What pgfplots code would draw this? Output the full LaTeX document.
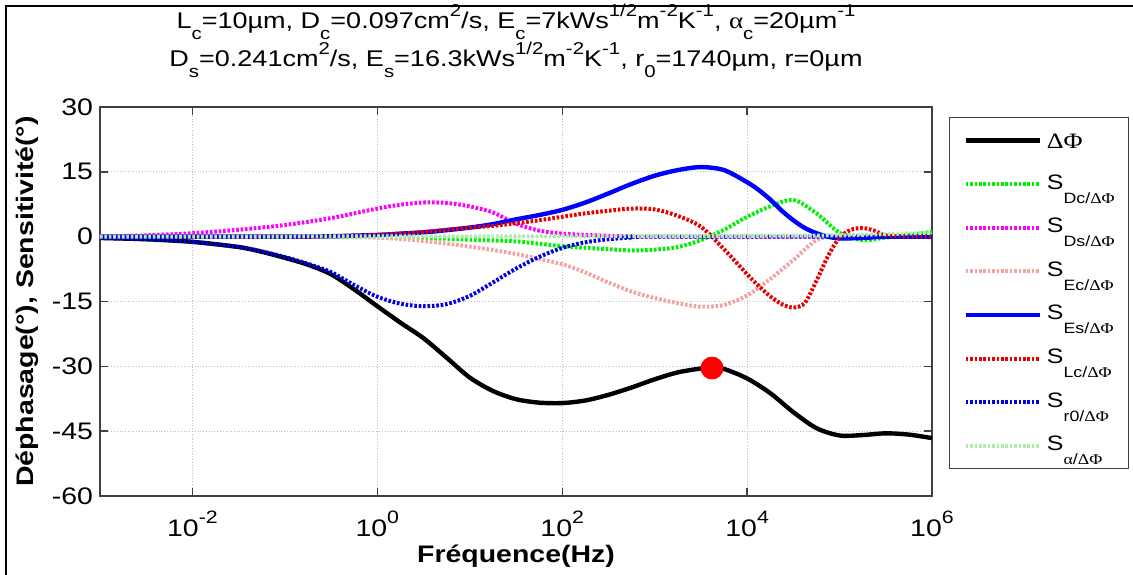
\documentclass[border=0pt]{standalone}
\usepackage{fontspec}
\setmainfont[FakeStretch=1.19]{Liberation Sans}
\newfontfamily\symf[FakeStretch=1.19]{Liberation Serif}
\usepackage{pgfplots}
\pgfplotsset{compat=1.18}
\definecolor{cDc}{RGB}{0,240,0}
\definecolor{cDs}{RGB}{255,0,255}
\definecolor{cEc}{RGB}{240,165,165}
\definecolor{cEs}{RGB}{0,0,255}
\definecolor{cLc}{RGB}{230,0,0}
\definecolor{cr0}{RGB}{0,0,230}
\definecolor{cal}{RGB}{170,240,170}
\definecolor{axgray}{RGB}{64,64,64}
\newcommand{\sub}[1]{\raisebox{-5.5bp}{\fontsize{8.6}{8.6}\selectfont #1}}
\newcommand{\sups}[1]{\raisebox{6bp}{\fontsize{8.6}{8.6}\selectfont #1}}
\newcommand{\tsup}[1]{\raisebox{6.5bp}{\fontsize{9}{9}\selectfont #1}}
\newcommand{\legS}[1]{{\fontsize{10.5}{10.5}\selectfont S\raisebox{-7bp}{\fontsize{7.5}{7.5}\selectfont #1}}}
\newcommand{\DP}{{\symf ΔΦ}}
\tikzset{mdot/.style={line width=2bp, line cap=butt, dash pattern=on 1.3bp off 0.9bp}}
\begin{document}
\begin{tikzpicture}
\path[use as bounding box] (0,0) rectangle (566.5bp,287.5bp);
\draw[line width=1.4bp] (3bp,0) -- (3bp,284.5bp) -- (566.5bp,284.5bp);
\begin{axis}[
  at={(50bp,39.5bp)}, anchor=south west,
  scale only axis, width=416bp, height=194.5bp,
  xmode=log, xmin=1e-3, xmax=1e6, ymin=-60, ymax=30,
  xtick={1e-2,1,1e2,1e4,1e6},
  xticklabels={10\tsup{-2},10\tsup{0},10\tsup{2},10\tsup{4},10\tsup{6}},
  ytick={-60,-45,-30,-15,0,15,30},
  yticklabels={-60,-45,-30,-15,0,15,30},
  xminorticks=false, yminorticks=false,
  font=\fontsize{12}{14}\selectfont,
  tick label style={font=\fontsize{12}{14}\selectfont},
  xticklabel style={anchor=base, yshift=-20bp},
  grid=major, major grid style={densely dotted, black!25, line width=0.4bp},
  axis line style={axgray, line width=0.7bp},
  tick style={axgray, line width=0.7bp}, major tick length=4bp,
  xlabel={\bfseries Fréquence(Hz)},
  ylabel={\bfseries Déphasage(°), Sensitivité(°)},
  xlabel style={at={(axis description cs:0.5,-0.154)}, anchor=center},
  ylabel style={at={(axis description cs:-0.0877,0.5)}, anchor=center},
  legend style={at={(1.0204,0.9743)}, anchor=north west, draw=black!75, line width=0.6bp, fill=white,
    inner xsep=7bp, inner ysep=0.6bp, row sep=0pt, column sep=2.5bp,
    nodes={inner sep=0pt, text height=13.4bp, text depth=8.4bp}},
  legend cell align=left,
  legend image code/.code={\draw[#1] (0bp,0bp) -- (37bp,0bp);},
]
\addplot[black, line width=2.2bp, smooth] coordinates {(0.001,-0.3) (0.00316,-0.6) (0.01,-1.2) (0.0316,-2.4) (0.0562,-3.5) (0.1,-4.9) (0.178,-6.5) (0.316,-8.7) (0.562,-12.2) (1,-16.1) (1.78,-19.9) (3.16,-23.5) (5.62,-28.0) (10,-32.6) (17.8,-35.7) (31.6,-37.6) (56.2,-38.4) (100,-38.5) (178,-37.9) (316,-36.6) (562,-34.9) (1000,-33.0) (1778,-31.4) (3162,-30.5) (4170,-30.3) (5623,-30.6) (10000,-32.8) (17783,-36.2) (31623,-40.6) (56234,-44.3) (1e5,-46.0) (177828,-45.9) (316228,-45.5) (562341,-45.8) (1e6,-46.6)};
\addlegendentry{\raisebox{-1.5bp}{\fontsize{11}{11}\selectfont\DP}}
\addplot[cDc, mdot, smooth] coordinates {(0.001,0) (1,-0.1) (3.16,-0.3) (10,-0.7) (31.6,-1.1) (100,-2.2) (316,-2.9) (562,-3.2) (1000,-3.0) (1778,-2.4) (3162,-0.8) (5623,1.6) (10000,4.6) (17783,7.0) (31623,8.5) (56234,5.4) (1e5,0.9) (177828,-0.8) (316228,-0.2) (562341,0.4) (1e6,1.1)};
\addlegendentry{\legS{Dc/\DP}}
\addplot[cDs, mdot, smooth] coordinates {(0.001,0) (0.00316,0.3) (0.01,0.8) (0.0316,1.6) (0.1,2.7) (0.316,4.3) (1,6.5) (1.78,7.4) (3.16,7.9) (5.62,7.8) (10,7.0) (17.8,5.6) (31.6,3.0) (56.2,1.4) (100,0.7) (178,0.4) (316,0.2) (562,0.1) (1000,0) (1e6,0)};
\addlegendentry{\legS{Ds/\DP}}
\addplot[cEc, mdot, smooth] coordinates {(0.001,0) (0.316,0) (1,-0.2) (3.16,-1.0) (10,-2.3) (31.6,-4.0) (100,-6.4) (178,-8.3) (316,-10.6) (562,-12.7) (1000,-14.2) (1778,-15.4) (3162,-16.2) (5623,-15.8) (10000,-13.6) (17783,-9.8) (31623,-5.4) (56234,-0.8) (1e5,0.2) (316228,0) (1e6,0)};
\addlegendentry{\legS{Ec/\DP}}
\addplot[cEs, line width=2.2bp, smooth] coordinates {(0.001,0) (0.1,0) (0.316,0.1) (1,0.4) (1.78,0.7) (3.16,1.0) (5.62,1.5) (10,2.1) (17.8,2.9) (31.6,4.0) (56.2,5.0) (100,6.2) (178,7.9) (316,10.0) (562,12.2) (1000,14.1) (1778,15.4) (3162,16.1) (5623,15.4) (10000,12.6) (13335,10.8) (17783,8.6) (23714,6.0) (31623,3.8) (42170,2.0) (56234,0.8) (74989,0.0) (1e5,-0.4) (177828,-0.3) (316228,0) (1e6,0)};
\addlegendentry{\legS{Es/\DP}}
\addplot[cLc, mdot, smooth] coordinates {(0.001,0) (0.1,0) (0.316,0.1) (1,0.4) (1.78,0.7) (3.16,1.1) (5.62,1.6) (10,2.1) (17.8,2.5) (31.6,3.1) (56.2,3.8) (100,4.6) (178,5.4) (316,6.0) (562,6.5) (1000,6.3) (1778,4.8) (3162,2.3) (5623,-2.9) (10000,-8.7) (13335,-11.4) (17783,-13.8) (23714,-15.6) (31623,-16.4) (42170,-15.3) (56234,-10.2) (74989,-4.5) (1e5,-0.2) (133352,1.6) (177828,2.0) (237137,1.4) (316228,0.3) (562341,0) (1e6,0)};
\addlegendentry{\legS{Lc/\DP}}
\addplot[cr0, mdot, smooth] coordinates {(0.001,-0.3) (0.00316,-0.6) (0.01,-1.2) (0.0316,-2.4) (0.0562,-3.4) (0.1,-4.7) (0.178,-6.3) (0.316,-8.2) (0.562,-11.2) (1,-13.9) (1.78,-15.5) (3.16,-16.1) (5.62,-15.6) (10,-13.7) (17.8,-10.6) (31.6,-7.4) (56.2,-4.7) (100,-2.6) (178,-1.3) (316,-0.6) (562,-0.2) (1000,0) (1e6,0)};
\addlegendentry{\legS{r0/\DP}}
\addplot[cal, mdot, smooth] coordinates {(0.001,0) (100,0.1) (1e4,0.2) (1e5,0.3) (316228,0.6) (1e6,0.9)};
\addlegendentry{\legS{{\symf α}/\DP}}
\addplot[only marks, mark=*, mark size=5.5bp, red, forget plot] coordinates {(4170,-30.4)};
\end{axis}
\node[anchor=base, font=\fontsize{11.4}{13}\selectfont] at (258bp,273bp) {L\sub{c}=10µm, D\sub{c}=0.097cm\sups{2}/s, E\sub{c}=7kWs\sups{1/2}m\sups{-2}K\sups{-1}, {\symf α}\sub{c}=20µm\sups{-1}};
\node[anchor=base, font=\fontsize{11.4}{13}\selectfont] at (258bp,254bp) {D\sub{s}=0.241cm\sups{2}/s, E\sub{s}=16.3kWs\sups{1/2}m\sups{-2}K\sups{-1}, r\sub{0}=1740µm, r=0µm};
\end{tikzpicture}
\end{document}
